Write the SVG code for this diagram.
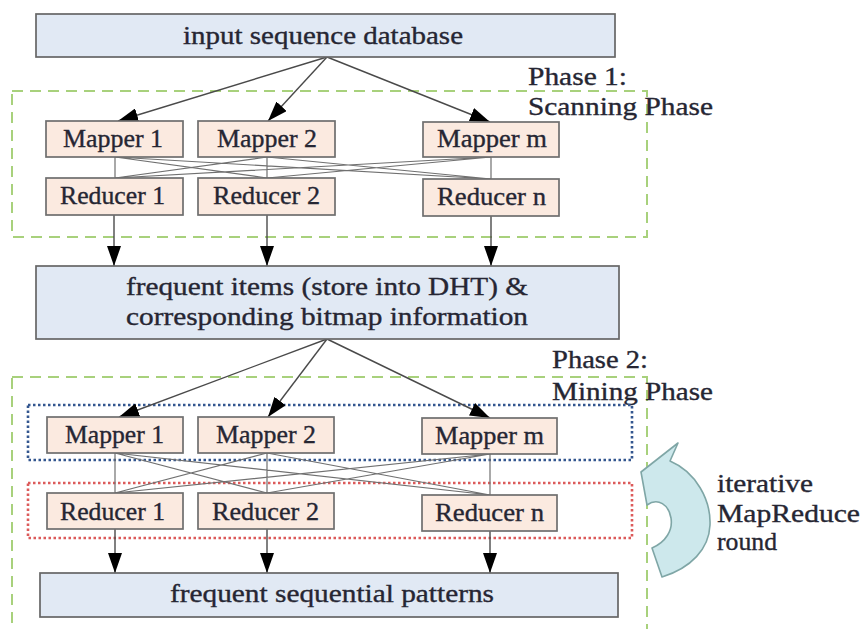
<svg xmlns="http://www.w3.org/2000/svg" width="861" height="629" viewBox="0 0 861 629">
<defs>
<style>
.t{font-family:"Liberation Serif","Times New Roman",serif;font-size:26px;fill:#262633;stroke:#262633;stroke-width:0.35}
.big{fill:#e1e9f4;stroke:#666;stroke-width:1.7}
.mr{fill:#fbeae0;stroke:#6e6e6e;stroke-width:1.7}
.edge{fill:none;stroke:#4a4a4a;stroke-width:1.4}
.cross{fill:none;stroke:#707070;stroke-width:1.2}
.green{fill:none;stroke:#a8d17c;stroke-width:2;stroke-dasharray:11 7}
.blue{fill:none;stroke:#33568f;stroke-width:2.6;stroke-dasharray:2.5 2.5}
.red{fill:none;stroke:#dc5a5a;stroke-width:2.6;stroke-dasharray:2.5 2.5}
</style>
<marker id="ah" markerUnits="userSpaceOnUse" markerWidth="20" markerHeight="14" refX="20" refY="7" orient="auto">
<path d="M0,0 L20,7 L0,14 Z" fill="#000"/>
</marker>
</defs>
<rect width="861" height="629" fill="#fff"/>

<g id="phase1-frame">
<rect class="green" x="12" y="91" width="635" height="146"/>
<text class="t" x="528" y="85" textLength="99" lengthAdjust="spacingAndGlyphs">Phase 1:</text>
<text class="t" x="528" y="115" textLength="185" lengthAdjust="spacingAndGlyphs">Scanning Phase</text>
</g>
<g id="phase2-frame">
<rect class="green" x="12" y="377" width="635" height="262"/>
<text class="t" x="552" y="368" textLength="96" lengthAdjust="spacingAndGlyphs">Phase 2:</text>
<text class="t" x="552" y="400" textLength="161" lengthAdjust="spacingAndGlyphs">Mining Phase</text>
</g>
<g id="map-group">
<rect class="blue" x="28" y="405" width="604" height="55"/>
</g>
<g id="reduce-group">
<rect class="red" x="28" y="483" width="604" height="55"/>
</g>

<g id="connectors">
<path class="edge" d="M327,57 L118,121" marker-end="url(#ah)"/>
<path class="edge" d="M327,57 L268,121" marker-end="url(#ah)"/>
<path class="edge" d="M327,57 L490,122" marker-end="url(#ah)"/>
<path class="cross" d="M115,157 L115,178 M115,157 L267,178 M115,157 L491,179 M267,157 L115,178 M267,157 L267,178 M267,157 L491,179 M491,157 L115,178 M491,157 L267,178 M491,157 L491,179"/>
<path class="edge" d="M114,215 L114,266" marker-end="url(#ah)"/>
<path class="edge" d="M267,215 L267,266" marker-end="url(#ah)"/>
<path class="edge" d="M491,216 L491,266" marker-end="url(#ah)"/>
<path class="edge" d="M327,339 L119,417" marker-end="url(#ah)"/>
<path class="edge" d="M327,339 L268,417" marker-end="url(#ah)"/>
<path class="edge" d="M327,339 L490,418" marker-end="url(#ah)"/>
<path class="cross" d="M115,453 L115,493 M115,453 L267,493 M115,453 L490,495 M267,453 L115,493 M267,453 L267,493 M267,453 L490,495 M490,454 L115,493 M490,454 L267,493 M490,454 L490,495"/>
<path class="edge" d="M115,529 L115,573" marker-end="url(#ah)"/>
<path class="edge" d="M267,529 L267,573" marker-end="url(#ah)"/>
<path class="edge" d="M490,531 L490,573" marker-end="url(#ah)"/>
</g>

<g id="input-db">
<rect class="big" x="36" y="14" width="579" height="43"/>
<text class="t" x="183" y="44" textLength="280" lengthAdjust="spacingAndGlyphs">input sequence database</text>
</g>
<g id="p1-mapper1"><rect class="mr" x="46" y="121" width="137" height="36"/><text class="t" x="63" y="147" textLength="100" lengthAdjust="spacingAndGlyphs">Mapper 1</text></g>
<g id="p1-mapper2"><rect class="mr" x="198" y="121" width="137" height="36"/><text class="t" x="217" y="147" textLength="100" lengthAdjust="spacingAndGlyphs">Mapper 2</text></g>
<g id="p1-mapperm"><rect class="mr" x="423" y="122" width="136" height="35"/><text class="t" x="437" y="147" textLength="110" lengthAdjust="spacingAndGlyphs">Mapper m</text></g>
<g id="p1-reducer1"><rect class="mr" x="46" y="178" width="137" height="37"/><text class="t" x="60" y="204" textLength="105" lengthAdjust="spacingAndGlyphs">Reducer 1</text></g>
<g id="p1-reducer2"><rect class="mr" x="198" y="178" width="137" height="37"/><text class="t" x="213" y="204" textLength="107" lengthAdjust="spacingAndGlyphs">Reducer 2</text></g>
<g id="p1-reducern"><rect class="mr" x="423" y="179" width="136" height="37"/><text class="t" x="437" y="205" textLength="109" lengthAdjust="spacingAndGlyphs">Reducer n</text></g>

<g id="dht">
<rect class="big" x="36" y="266" width="583" height="73"/>
<text class="t" x="126" y="295" textLength="402" lengthAdjust="spacingAndGlyphs">frequent items (store into DHT) &amp;</text>
<text class="t" x="126" y="325" textLength="402" lengthAdjust="spacingAndGlyphs">corresponding bitmap information</text>
</g>

<g id="p2-mapper1"><rect class="mr" x="47" y="417" width="136" height="36"/><text class="t" x="65" y="443" textLength="99" lengthAdjust="spacingAndGlyphs">Mapper 1</text></g>
<g id="p2-mapper2"><rect class="mr" x="198" y="417" width="136" height="36"/><text class="t" x="216" y="443" textLength="100" lengthAdjust="spacingAndGlyphs">Mapper 2</text></g>
<g id="p2-mapperm"><rect class="mr" x="422" y="418" width="135" height="36"/><text class="t" x="435" y="444" textLength="109" lengthAdjust="spacingAndGlyphs">Mapper m</text></g>
<g id="p2-reducer1"><rect class="mr" x="47" y="493" width="136" height="36"/><text class="t" x="60" y="520" textLength="105" lengthAdjust="spacingAndGlyphs">Reducer 1</text></g>
<g id="p2-reducer2"><rect class="mr" x="198" y="493" width="136" height="36"/><text class="t" x="212" y="520" textLength="107" lengthAdjust="spacingAndGlyphs">Reducer 2</text></g>
<g id="p2-reducern"><rect class="mr" x="422" y="495" width="135" height="36"/><text class="t" x="435" y="521" textLength="109" lengthAdjust="spacingAndGlyphs">Reducer n</text></g>

<g id="patterns">
<rect class="big" x="40" y="573" width="578" height="44"/>
<text class="t" x="170" y="602" textLength="324" lengthAdjust="spacingAndGlyphs">frequent sequential patterns</text>
</g>

<g id="iterative-round">
<path d="M678,443 L670,461 C696,472 711,500 710,525 C709,549 691,568 662,577 L652,548 C666,542 673,530 671,518 C669,505 658,497 647,505 L641,472 Z" fill="#cde8ec" stroke="#7fa6a6" stroke-width="1.6" stroke-linejoin="round"/>
<text class="t" x="717" y="492" textLength="96" lengthAdjust="spacingAndGlyphs">iterative</text>
<text class="t" x="717" y="522" textLength="143" lengthAdjust="spacingAndGlyphs">MapReduce</text>
<text class="t" x="717" y="550" textLength="60" lengthAdjust="spacingAndGlyphs">round</text>
</g>
</svg>
